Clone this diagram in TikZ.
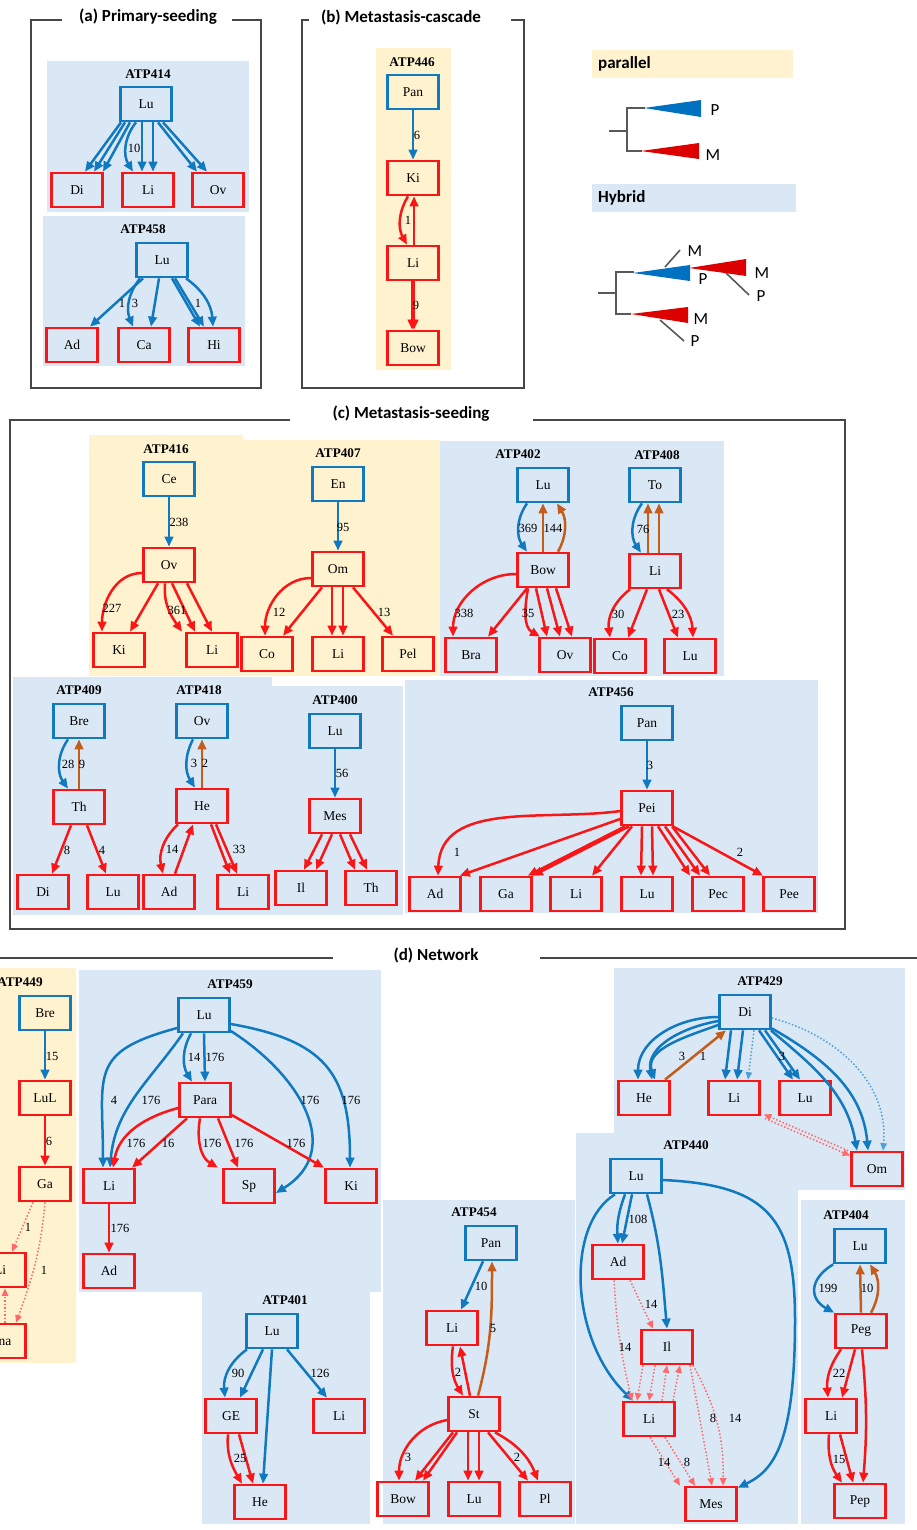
\documentclass[tikz,border=0pt]{standalone}
\usepackage{fontspec}
\setmainfont{Liberation Serif}
\newfontfamily\calfont{Carlito}
\usetikzlibrary{arrows.meta,calc}
\definecolor{cb}{RGB}{16,121,192}
\definecolor{cr}{RGB}{250,22,22}
\definecolor{co}{RGB}{196,92,28}
\definecolor{bgb}{RGB}{218,232,245}
\definecolor{bgy}{RGB}{255,242,206}
\definecolor{frm}{RGB}{70,70,70}
\definecolor{cdr}{RGB}{255,105,105}
\definecolor{cdb}{RGB}{80,160,215}
\definecolor{tri}{RGB}{0,112,192}
\definecolor{trr}{RGB}{220,0,0}
\tikzset{
 nd/.style={draw, line width=2.7pt, minimum width=51pt, minimum height=34pt, inner sep=0pt, font=\fontsize{13.5}{13.5}\selectfont},
 nb/.style={nd, draw=cb},
 nr/.style={nd, draw=cr},
 tt/.style={font=\bfseries\fontsize{13.2}{13.2}\selectfont, inner sep=0pt},
 lb/.style={font=\fontsize{12.5}{12.5}\selectfont, inner sep=0pt},
 arw/.style={-{Triangle[length=10pt,width=8.5pt]}},
 eb/.style={draw=cb, line width=2.5pt, arw},
 er/.style={draw=cr, line width=2.5pt, arw},
 eo/.style={draw=co, line width=2.5pt, arw},
 dr/.style={draw=cdr, line width=1.5pt, dotted, -{Triangle[length=7.5pt,width=6.5pt]}},
 db/.style={draw=cdb, line width=1.5pt, dotted, -{Triangle[length=7.5pt,width=6.5pt]}},
 ptitle/.style={font=\calfont\bfseries\fontsize{17}{17}\selectfont, inner sep=0pt},
 pframe/.style={draw=frm, line width=1.1pt},
 legt/.style={font=\calfont\bfseries\fontsize{17}{17}\selectfont, inner sep=0pt, anchor=west},
 legl/.style={font=\calfont\fontsize{17}{17}\selectfont, inner sep=0pt},
 trl/.style={draw=black!65, line width=1.6pt},
}
\begin{document}
\begin{tikzpicture}[x=1pt,y=-1pt]
\useasboundingbox (0,0) rectangle (917,1530);
\fill[white] (0,0) rectangle (917,1530);

%% ---------------- (a) ----------------
\draw[pframe] (62,20) -- (31,20) -- (31,388) -- (261,388) -- (261,20) -- (232,20);
\node[ptitle] (ta) at (148,17) {(a) Primary-seeding};
\fill[bgb] (47,61) rectangle (249,212);
\node[tt] (t414) at (148,74) {ATP414};
\node[nb] (a1lu) at (146,104) {Lu};
\node[nr] (a1di) at (77,190) {Di};
\node[nr] (a1li) at (148,190) {Li};
\node[nr] (a1ov) at (218,190) {Ov};
\draw[eb] ([xshift=-25]a1lu.south) -- ([xshift=8]a1di.north);
\draw[eb] ([xshift=-21]a1lu.south) -- ([xshift=17]a1di.north);
\draw[eb] ([xshift=-16]a1lu.south) -- ([xshift=26]a1di.north);
\draw[eb] ([xshift=-10]a1lu.south) to[bend right=35] ([xshift=-15]a1li.north);
\draw[eb] ([xshift=-4]a1lu.south) -- ([xshift=-6]a1li.north);
\draw[eb] ([xshift=7]a1lu.south) -- ([xshift=5]a1li.north);
\draw[eb] ([xshift=12]a1lu.south) -- ([xshift=-21]a1ov.north);
\draw[eb] ([xshift=17]a1lu.south) -- ([xshift=-11]a1ov.north);
\node[lb] at (134,148) {10};

\fill[bgb] (43,216) rectangle (245,366);
\node[tt] (t458) at (143,229) {ATP458};
\node[nb] (a2lu) at (162,260) {Lu};
\node[nr] (a2ad) at (72,345) {Ad};
\node[nr] (a2ca) at (144,345) {Ca};
\node[nr] (a2hi) at (214,345) {Hi};
\draw[eb] ([xshift=-19]a2lu.south) -- ([xshift=18]a2ad.north);
\draw[eb] ([xshift=-22]a2lu.south) to[bend right=30] ([xshift=-11]a2ca.north);
\draw[eb] ([xshift=-3]a2lu.south) -- ([xshift=7]a2ca.north);
\draw[eb] ([xshift=10]a2lu.south) -- ([xshift=-14]a2hi.north);
\draw[eb] ([xshift=13]a2lu.south) -- ([xshift=-10]a2hi.north);
\draw[eb] ([xshift=24]a2lu.south) to[bend left=25] ([xshift=-1]a2hi.north);
\node[lb] at (122,303) {1};
\node[lb] at (135,303) {3};
\node[lb] at (198,303) {1};

%% ---------------- (b) ----------------
\draw[pframe] (309,20) -- (302,20) -- (302,388) -- (524,388) -- (524,20) -- (511,20);
\node[ptitle] (tb) at (401,17) {(b) Metastasis-cascade};
\fill[bgy] (376,48) rectangle (451,370);
\node[tt] (t446) at (412,62) {ATP446};
\node[nb] (b1pan) at (413,92) {Pan};
\node[nr] (b1ki) at (413,178) {Ki};
\node[nr] (b1li) at (413,263) {Li};
\node[nr] (b1bow) at (413,348) {Bow};
\draw[eb] (b1pan) -- (b1ki);
\draw[er] ([xshift=-5]b1ki.south) to[bend right=30] ([xshift=-6]b1li.north);
\draw[er] ([xshift=1]b1li.north) -- ([xshift=1]b1ki.south);
\draw[er] ([xshift=-1]b1li.south) -- ([xshift=-1]b1bow.north);
\draw[er] ([xshift=1]b1li.south) -- ([xshift=1]b1bow.north);
\node[lb] at (417,135) {6};
\node[lb] at (408,220) {1};
\node[lb] at (416,305) {9};

%% legend
\fill[bgy] (592,50) rectangle (793,78);
\node[legt] (lp) at (598,64) {parallel};
\draw[trl] (609,131) -- (627,131);
\draw[trl] (645,108) -- (627,108) -- (627,151) -- (642,151);
\fill[tri] (644,108) -- (701,100) -- (701,117) -- cycle;
\fill[trr] (641,151) -- (699,143) -- (699,159) -- cycle;
\node[legl] (lp1) at (715,110) {P};
\node[legl] (lm1) at (713,155) {M};

\fill[bgb] (592,184) rectangle (796,212);
\node[legt] (lh) at (598,198) {Hybrid};
\draw[trl] (598,293) -- (616,293);
\draw[trl] (634,272) -- (616,272) -- (616,314) -- (631,314);
\draw[trl] (665,267) -- (680,250);
\draw[trl] (726,273) -- (749,295);
\draw[trl] (660,320) -- (684,341);
\fill[tri] (633,273) -- (690,265) -- (690,281) -- cycle;
\fill[trr] (689,268) -- (746,259) -- (746,276) -- cycle;
\fill[trr] (631,314) -- (688,307) -- (688,323) -- cycle;
\node[legl] at (695,251) {M};
\node[legl] at (703,279) {P};
\node[legl] at (762,273) {M};
\node[legl] at (761,296) {P};
\node[legl] at (701,319) {M};
\node[legl] at (695,341) {P};

%% ---------------- (c) ----------------
\draw[pframe] (290,420) -- (10,420) -- (10,929) -- (845,929) -- (845,420) -- (533,420);
\node[ptitle] (tc) at (411,414) {(c) Metastasis-seeding};
\fill[bgy] (89,435) rectangle (243,676);
\fill[bgy] (243,440) rectangle (440,676);
\fill[bgb] (440,441) rectangle (724,676);
\fill[bgb] (13,677) rectangle (272,915);
\fill[bgb] (272,686) rectangle (403,915);
\fill[bgb] (405,680) rectangle (818,913);

% ATP416
\node[tt] (t416) at (166,449) {ATP416};
\node[nb] (c1ce) at (169,479) {Ce};
\node[nr] (c1ov) at (169,565) {Ov};
\node[nr] (c1ki) at (119,650) {Ki};
\node[nr] (c1li) at (212,650) {Li};
\draw[eb] (c1ce) -- (c1ov);
\draw[er] ([yshift=-8]c1ov.west) to[out=180,in=90] ([xshift=-17]c1ki.north);
\draw[er] ([xshift=-11]c1ov.south) -- ([xshift=11]c1ki.north);
\draw[er] ([xshift=-4]c1ov.south) to[out=-95,in=125] ([xshift=-30]c1li.north);
\draw[er] ([xshift=3]c1ov.south) -- ([xshift=-17]c1li.north);
\draw[er] ([xshift=18]c1ov.south) -- ([xshift=0]c1li.north);
\node[lb] at (179,522) {238};
\node[lb] at (112,608) {227};
\node[lb] at (177,610) {361};

% ATP407
\node[tt] (t407) at (338,453) {ATP407};
\node[nb] (c2en) at (338,484) {En};
\node[nr] (c2om) at (338,569) {Om};
\node[nr] (c2co) at (267,654) {Co};
\node[nr] (c2li) at (338,654) {Li};
\node[nr] (c2pel) at (408,654) {Pel};
\draw[eb] (c2en) -- (c2om);
\draw[er] ([yshift=-9]c2om.west) to[out=180,in=90] ([xshift=-2]c2co.north);
\draw[er] ([xshift=-16]c2om.south) -- ([xshift=16]c2co.north);
\draw[er] ([xshift=-6]c2om.south) -- ([xshift=-6]c2li.north);
\draw[er] ([xshift=5]c2om.south) -- ([xshift=5]c2li.north);
\draw[er] ([xshift=15]c2om.south) -- ([xshift=-15]c2pel.north);
\node[lb] at (343,527) {95};
\node[lb] at (279,612) {12};
\node[lb] at (384,612) {13};

% ATP402
\node[tt] (t402) at (518,454) {ATP402};
\node[nb] (c3lu) at (543,485) {Lu};
\node[nr] (c3bow) at (543,570) {Bow};
\node[nr] (c3bra) at (471,655) {Bra};
\node[nr] (c3ov) at (565,655) {Ov};
\draw[eb] ([xshift=-16]c3lu.south) to[bend right=35] ([xshift=-16]c3bow.north);
\draw[eo] (c3bow.north) -- (c3lu.south);
\draw[eo] ([xshift=15]c3bow.north) to[bend right=30] ([xshift=14]c3lu.south);
\draw[er] ([yshift=-4]c3bow.west) to[out=180,in=90] ([xshift=-18]c3bra.north);
\draw[er] ([xshift=-16]c3bow.south) -- ([xshift=17]c3bra.north);
\draw[er] ([xshift=-15]c3bow.south) to[out=-100,in=150] ([xshift=-25]c3ov.north);
\draw[er] ([xshift=-7]c3bow.south) -- ([xshift=-18]c3ov.north);
\draw[er] ([xshift=4]c3bow.south) -- ([xshift=-5]c3ov.north);
\draw[er] ([xshift=13]c3bow.south) -- ([xshift=7]c3ov.north);
\node[lb] at (528,528) {369};
\node[lb] at (553,528) {144};
\node[lb] at (464,613) {338};
\node[lb] at (528,613) {35};

% ATP408
\node[tt] (t408) at (657,455) {ATP408};
\node[nb] (c4to) at (655,485) {To};
\node[nr] (c4li) at (655,571) {Li};
\node[nr] (c4co) at (620,656) {Co};
\node[nr] (c4lu) at (690,656) {Lu};
\draw[eb] ([xshift=-13]c4to.south) to[bend right=35] ([xshift=-14]c4li.north);
\draw[eo] ([xshift=-7]c4li.north) -- ([xshift=-7]c4to.south);
\draw[eo] ([xshift=4]c4li.north) -- ([xshift=4]c4to.south);
\draw[er] ([xshift=-25]c4li.south) to[bend right=30] ([xshift=-10]c4co.north);
\draw[er] ([xshift=-8]c4li.south) -- ([xshift=8]c4co.north);
\draw[er] ([xshift=4]c4li.south) -- ([xshift=-12]c4lu.north);
\draw[er] ([xshift=12]c4li.south) to[bend left=25] ([xshift=3]c4lu.north);
\node[lb] at (643,529) {76};
\node[lb] at (618,614) {30};
\node[lb] at (678,614) {23};

% ATP409
\node[tt] (t409) at (79,690) {ATP409};
\node[nb] (c5bre) at (79,721) {Bre};
\node[nr] (c5th) at (79,807) {Th};
\node[nr] (c5di) at (43,892) {Di};
\node[nr] (c5lu) at (113,892) {Lu};
\draw[eb] ([xshift=-11]c5bre.south) to[bend right=35] ([xshift=-11]c5th.north);
\draw[eo] (c5th.north) -- (c5bre.south);
\draw[er] ([xshift=-8]c5th.south) -- ([xshift=9]c5di.north);
\draw[er] ([xshift=8]c5th.south) -- ([xshift=-7]c5lu.north);
\node[lb] at (68,764) {28};
\node[lb] at (82,764) {9};
\node[lb] at (67,850) {8};
\node[lb] at (102,850) {4};

% ATP418
\node[tt] (t418) at (199,690) {ATP418};
\node[nb] (c6ov) at (202,721) {Ov};
\node[nr] (c6he) at (202,806) {He};
\node[nr] (c6ad) at (169,892) {Ad};
\node[nr] (c6li) at (243,892) {Li};
\draw[eb] ([xshift=-9]c6ov.south) to[bend right=30] ([xshift=-7]c6he.north);
\draw[eo] (c6he.north) -- (c6ov.south);
\draw[er] ([xshift=-24]c6he.south) to[bend right=30] ([xshift=-6]c6ad.north);
\draw[er] ([xshift=6]c6ad.north) -- ([xshift=-9]c6he.south);
\draw[er] ([xshift=9]c6he.south) -- ([xshift=-13]c6li.north);
\draw[er] ([xshift=14]c6he.south) -- ([xshift=-6]c6li.north);
\node[lb] at (194,763) {3};
\node[lb] at (205,763) {2};
\node[lb] at (172,849) {14};
\node[lb] at (239,849) {33};

% ATP400
\node[tt] (t400) at (335,700) {ATP400};
\node[nb] (c7lu) at (335,731) {Lu};
\node[nr] (c7mes) at (335,816) {Mes};
\node[nr] (c7il) at (301,888) {Il};
\node[nr] (c7th) at (371,888) {Th};
\draw[eb] (c7lu) -- (c7mes);
\draw[er] ([xshift=-13]c7mes.south) -- ([xshift=3]c7il.north);
\draw[er] ([xshift=-3]c7mes.south) -- ([xshift=15]c7il.north);
\draw[er] ([xshift=5]c7mes.south) -- ([xshift=-16]c7th.north);
\draw[er] ([xshift=15]c7mes.south) -- ([xshift=-4]c7th.north);
\node[lb] at (342,773) {56};

% ATP456
\node[tt] (t456) at (611,692) {ATP456};
\node[nb] (c8pan) at (647,723) {Pan};
\node[nr] (c8pei) at (647,808) {Pei};
\node[nr] (c8ad) at (435,894) {Ad};
\node[nr] (c8ga) at (506,894) {Ga};
\node[nr] (c8li) at (576,894) {Li};
\node[nr] (c8lu) at (647,894) {Lu};
\node[nr] (c8pec) at (718,894) {Pec};
\node[nr] (c8pee) at (789,894) {Pee};
\draw[eb] (c8pan) -- (c8pei);
\draw[er] ([yshift=-3]c8pei.west) to[out=188,in=88] ([xshift=3]c8ad.north);
\draw[er] ([yshift=-11]c8pei.west) -- ([xshift=-2]c8ad.north east);
\draw[er] ([xshift=-22]c8pei.south) -- ([xshift=-5]c8ga.north east);
\draw[er] ([xshift=-18]c8pei.south) -- ([xshift=0]c8ga.north east);
\draw[er] ([xshift=-15]c8pei.south) -- ([xshift=16]c8li.north);
\draw[er] ([xshift=-5]c8pei.south) -- ([xshift=-6]c8lu.north);
\draw[er] ([xshift=5]c8pei.south) -- ([xshift=6]c8lu.north);
\draw[er] ([xshift=11]c8pei.south) -- ([xshift=-28]c8pec.north);
\draw[er] ([xshift=18]c8pei.south) -- ([xshift=-18]c8pec.north);
\draw[er] ([xshift=25]c8pei.south) -- ([xshift=-8]c8pec.north);
\draw[er] ([xshift=-1]c8pei.south east) -- ([xshift=-26]c8pee.north);
\node[lb] at (650,765) {3};
\node[lb] at (457,852) {1};
\node[lb] at (740,852) {2};

%% ---------------- (d) ----------------
\draw[pframe] (0,958) -- (333,958);
\draw[pframe] (540,958) -- (917,958);
\node[ptitle] (td) at (436,955) {(d) Network};

% ATP449
\fill[bgy] (0,968) rectangle (76,1363);
\node[tt] (t449) at (20,982) {ATP449};
\node[nb] (d1bre) at (45,1013) {Bre};
\node[nr] (d1lul) at (45,1098) {LuL};
\node[nr] (d1ga) at (45,1184) {Ga};
\node[nr] (d1li) at (0,1270) {Li};
\node[nr] (d1na) at (0,1341) {Ana};
\draw[eb] (d1bre) -- (d1lul);
\draw[er] (d1lul) -- (d1ga);
\draw[dr] ([xshift=-12]d1ga.south) -- ([xshift=12]d1li.north);
\draw[dr] (d1ga.south) to[out=-95,in=70] ([xshift=16]d1na.north);
\draw[dr] ([xshift=5]d1na.north) -- ([xshift=5]d1li.south);
\node[lb] at (52,1056) {15};
\node[lb] at (49,1141) {6};
\node[lb] at (28,1227) {1};
\node[lb] at (44,1270) {1};

% ATP459
\fill[bgb] (79,970) rectangle (381,1292);
\node[tt] (t459) at (230,984) {ATP459};
\node[nb] (d2lu) at (204,1015) {Lu};
\node[nr] (d2para) at (205,1100) {Para};
\node[nr] (d2li) at (109,1186) {Li};
\node[nr] (d2sp) at (249,1186) {Sp};
\node[nr] (d2ki) at (351,1186) {Ki};
\node[nr] (d2ad) at (109,1271) {Ad};
\draw[eb] ([yshift=-13]d2lu.west) to[out=195,in=90,looseness=1.5] ([xshift=-6]d2li.north);
\draw[eb] ([xshift=-21]d2lu.south) to[out=235,in=85] ([xshift=1]d2li.north);
\draw[eb] ([xshift=-13]d2lu.south) to[bend right=30] ([xshift=-13]d2para.north);
\draw[eb] (d2lu.south) -- (d2para.north);
\draw[eb] ([yshift=-16]d2lu.east) .. controls (300,1075) and (345,1150) .. ([yshift=-7]d2sp.east);
\draw[eb] ([yshift=-9]d2lu.east) to[out=-10,in=90,looseness=1.3] ([xshift=-1]d2ki.north);
\draw[er] ([yshift=-8]d2para.west) to[out=195,in=80] ([xshift=4]d2li.north);
\draw[er] ([xshift=-18]d2para.south) -- ([xshift=23]d2li.north);
\draw[er] ([xshift=-5]d2para.south) to[out=-100,in=150] ([xshift=-31]d2sp.north);
\draw[er] ([xshift=13]d2para.south) -- ([xshift=-11]d2sp.north);
\draw[er] ([yshift=-15]d2para.east) -- ([xshift=-27]d2ki.north);
\draw[er] (d2li) -- (d2ad);
\node[lb] at (114,1100) {4};
\node[lb] at (151,1100) {176};
\node[lb] at (194,1057) {14};
\node[lb] at (215,1057) {176};
\node[lb] at (310,1100) {176};
\node[lb] at (351,1100) {176};
\node[lb] at (136,1143) {176};
\node[lb] at (168,1143) {16};
\node[lb] at (212,1143) {176};
\node[lb] at (244,1143) {176};
\node[lb] at (296,1143) {176};
\node[lb] at (120,1228) {176};

% ATP401
\fill[bgb] (202,1292) rectangle (370,1524);
\node[tt] (t401) at (285,1300) {ATP401};
\node[nb] (d3lu) at (272,1331) {Lu};
\node[nr] (d3ge) at (231,1416) {GE};
\node[nr] (d3li) at (339,1416) {Li};
\node[nr] (d3he) at (260,1502) {He};
\draw[eb] ([xshift=-25]d3lu.south) to[bend right=30] ([xshift=-6]d3ge.north);
\draw[eb] ([xshift=-9]d3lu.south) -- ([xshift=9]d3ge.north);
\draw[eb] (d3lu.south) -- ([xshift=3]d3he.north);
\draw[eb] ([xshift=15]d3lu.south) -- ([xshift=-12]d3li.north);
\draw[er] ([xshift=-3]d3ge.south) to[out=-95,in=120] ([xshift=-18]d3he.north);
\draw[er] ([xshift=8]d3ge.south) -- ([xshift=-7]d3he.north);
\node[lb] at (238,1373) {90};
\node[lb] at (320,1373) {126};
\node[lb] at (240,1458) {25};

% ATP454
\fill[bgb] (383,1200) rectangle (575,1524);
\node[tt] (t454) at (474,1212) {ATP454};
\node[nb] (d4pan) at (491,1243) {Pan};
\node[nr] (d4li) at (452,1328) {Li};
\node[nr] (d4st) at (474,1414) {St};
\node[nr] (d4bow) at (403,1499) {Bow};
\node[nr] (d4lu) at (474,1499) {Lu};
\node[nr] (d4pl) at (545,1499) {Pl};
\draw[eb] ([xshift=-8]d4pan.south) -- ([xshift=9]d4li.north);
\draw[eo] ([xshift=4]d4st.north) to[out=75,in=-90] ([xshift=1]d4pan.south);
\draw[er] ([xshift=1]d4li.south) to[bend right=20] ([xshift=-11]d4st.north);
\draw[er] ([xshift=-4]d4st.north) -- ([xshift=8]d4li.south);
\draw[er] ([yshift=-6]d4st.west) to[out=190,in=90] ([xshift=-4]d4bow.north);
\draw[er] ([xshift=-21]d4st.south) -- ([xshift=12]d4bow.north);
\draw[er] ([xshift=-17]d4st.south) -- ([xshift=20]d4bow.north);
\draw[er] ([xshift=-6]d4st.south) -- ([xshift=-6]d4lu.north);
\draw[er] ([xshift=5]d4st.south) -- ([xshift=5]d4lu.north);
\draw[er] ([xshift=14]d4st.south) -- ([xshift=-17]d4pl.north);
\draw[er] ([xshift=21]d4st.south) to[bend left=20] ([xshift=-7]d4pl.north);
\node[lb] at (481,1286) {10};
\node[lb] at (493,1328) {5};
\node[lb] at (458,1372) {2};
\node[lb] at (408,1457) {3};
\node[lb] at (517,1457) {2};

% ATP429
\fill[bgb] (614,968) rectangle (905,1190);
\fill[bgb] (576,1133) rectangle (798,1524);
\node[tt] (t429) at (760,981) {ATP429};
\node[nb] (d5di) at (745,1012) {Di};
\node[nr] (d5he) at (644,1098) {He};
\node[nr] (d5li) at (734,1098) {Li};
\node[nr] (d5lu) at (805,1098) {Lu};
\node[nr] (d5om) at (877,1169) {Om};
\draw[eb] ([yshift=-5]d5di.west) to[out=180,in=90] ([xshift=-6]d5he.north);
\draw[eb] ([yshift=-9]d5di.west) to[out=190,in=100] ([xshift=8]d5he.north);
\draw[eb] ([yshift=-13]d5di.west) to[out=200,in=110] ([xshift=11]d5he.north);
\draw[eo] ([xshift=21]d5he.north) -- ([xshift=-19]d5di.south);
\draw[eb] ([xshift=-14]d5di.south) -- ([xshift=-9]d5li.north);
\draw[eb] ([xshift=-2]d5di.south) -- ([xshift=3]d5li.north);
\draw[db] ([xshift=9]d5di.south) -- ([xshift=14]d5li.north);
\draw[eb] ([xshift=14]d5di.south) -- ([xshift=-12]d5lu.north);
\draw[eb] ([xshift=20]d5di.south) -- ([xshift=-5]d5lu.north);
\draw[eb] ([xshift=-1]d5di.south east) to[out=-40,in=100] ([xshift=-20]d5om.north);
\draw[eb] ([yshift=2]d5di.south east) to[out=-30,in=95] ([xshift=-9]d5om.north);
\draw[db] ([yshift=-6]d5di.east) to[out=-15,in=85] ([xshift=6]d5om.north);
\draw[dr] ([xshift=-2]d5om.north west) -- ([xshift=3,yshift=2]d5li.south east);
\draw[dr] ([xshift=4,yshift=-2]d5li.south east) -- ([yshift=-5]d5om.north west);
\node[lb] at (682,1056) {3};
\node[lb] at (703,1056) {1};
\node[lb] at (782,1056) {3};

% ATP440
\node[tt] (t440) at (686,1145) {ATP440};
\node[nb] (d6lu) at (636,1176) {Lu};
\node[nr] (d6ad) at (618,1262) {Ad};
\node[nr] (d6il) at (667,1347) {Il};
\node[nr] (d6li) at (649,1419) {Li};
\node[nr] (d6mes) at (711,1504) {Mes};
\draw[eb] ([xshift=-11]d6lu.south) to[bend right=12] ([xshift=0]d6ad.north);
\draw[eb] ([xshift=-4]d6lu.south) -- ([xshift=4]d6ad.north);
\draw[eb] ([xshift=11]d6lu.south) to[out=-75,in=95] (d6il.north);
\draw[eb] ([xshift=-21]d6lu.south) .. controls (565,1225) and (570,1340) .. ([xshift=-16]d6li.north);
\draw[eb] ([yshift=-4]d6lu.east) .. controls (770,1185) and (795,1220) .. (795,1320) .. controls (795,1440) and (775,1470) .. ([yshift=-2]d6mes.north east);
\draw[dr] ([xshift=12]d6ad.south) -- ([xshift=-14]d6il.north);
\draw[dr] ([xshift=-4]d6ad.south) to[bend right=5] ([xshift=-17]d6li.north);
\draw[dr] ([xshift=-24]d6il.south) -- ([xshift=-12]d6li.north);
\draw[dr] ([xshift=-12]d6il.south) -- ([xshift=0]d6li.north);
\draw[dr] ([xshift=13]d6li.north) -- ([xshift=0]d6il.south);
\draw[dr] ([xshift=24]d6li.north) -- ([xshift=13]d6il.south);
\draw[dr] ([xshift=23]d6il.south) -- ([xshift=1]d6mes.north);
\draw[dr] ([xshift=26]d6il.south) to[bend left=15] ([xshift=12]d6mes.north);
\draw[dr] ([xshift=1]d6li.south) -- ([xshift=-31]d6mes.north);
\draw[dr] ([xshift=16]d6li.south) -- ([xshift=-16]d6mes.north);
\node[lb] at (638,1219) {108};
\node[lb] at (651,1304) {14};
\node[lb] at (625,1347) {14};
\node[lb] at (713,1418) {8};
\node[lb] at (735,1418) {14};
\node[lb] at (664,1462) {14};
\node[lb] at (687,1462) {8};

% ATP404
\fill[bgb] (801,1200) rectangle (905,1524);
\node[tt] (t404) at (846,1215) {ATP404};
\node[nb] (d7lu) at (860,1246) {Lu};
\node[nr] (d7peg) at (861,1331) {Peg};
\node[nr] (d7li) at (831,1416) {Li};
\node[nr] (d7pep) at (860,1501) {Pep};
\draw[eb] (d7lu.south west) to[bend right=60,looseness=1.5] (d7peg.north west);
\draw[eo] (d7peg.north) -- (d7lu.south);
\draw[eo] ([xshift=10]d7peg.north) to[bend right=30] ([xshift=10]d7lu.south);
\draw[er] ([xshift=-20]d7peg.south) to[bend right=20] ([xshift=-3]d7li.north);
\draw[er] ([xshift=-6]d7peg.south) -- ([xshift=11]d7li.north);
\draw[er] ([xshift=1]d7peg.south) to[bend left=5] ([xshift=3]d7pep.north);
\draw[er] ([xshift=-2]d7li.south) to[bend right=20] ([xshift=-18]d7pep.north);
\draw[er] ([xshift=9]d7li.south) -- ([xshift=-7]d7pep.north);
\node[lb] at (828,1288) {199};
\node[lb] at (867,1288) {10};
\node[lb] at (839,1373) {22};
\node[lb] at (839,1459) {15};
\end{tikzpicture}
\end{document}
